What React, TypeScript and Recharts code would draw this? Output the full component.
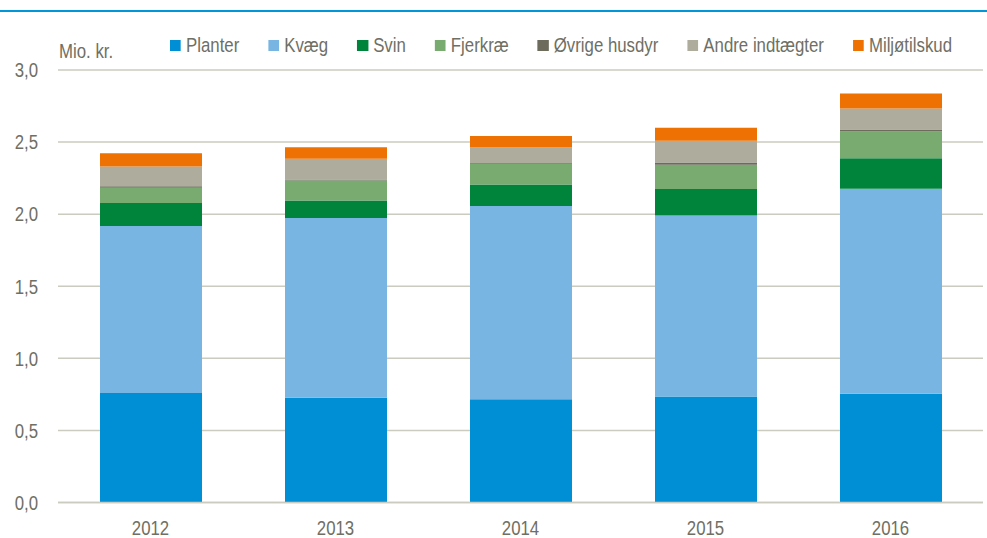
import { BarChart, Bar, XAxis, YAxis, CartesianGrid, Legend } from 'recharts';

// Kategorier og serier (mio. kr.)
const years = ['2012', '2013', '2014', '2015', '2016'];
const planter = [0.76, 0.726, 0.717, 0.735, 0.755];
const kvaeg = [1.158, 1.248, 1.34, 1.255, 1.422];
const svin = [0.16, 0.12, 0.148, 0.185, 0.211];
const fjerkrae = [0.105, 0.139, 0.145, 0.167, 0.185];
const oevrige = [0.01, 0.007, 0.005, 0.016, 0.014];
const andre = [0.137, 0.145, 0.107, 0.152, 0.146];
const miljoe = [0.092, 0.079, 0.081, 0.09, 0.104];
const yTicks = [0, 0.5, 1, 1.5, 2, 2.5, 3];

const SERIES = [
  { key: 'planter', name: 'Planter', values: planter, color: '#008fd5' },
  { key: 'kvaeg', name: 'Kvæg', values: kvaeg, color: '#78b5e3' },
  { key: 'svin', name: 'Svin', values: svin, color: '#00843b' },
  { key: 'fjerkrae', name: 'Fjerkræ', values: fjerkrae, color: '#79aa70' },
  { key: 'oevrige', name: 'Øvrige husdyr', values: oevrige, color: '#6d6c5c' },
  { key: 'andre', name: 'Andre indtægter', values: andre, color: '#adac9d' },
  { key: 'miljoe', name: 'Miljøtilskud', values: miljoe, color: '#ee7203' },
];

const data = years.map((year, i) => {
  const row: any = { year };
  SERIES.forEach(s => { row[s.key] = s.values[i]; });
  return row;
});

// Ingen "narrow" skrift installeret -> Liberation Sans klemt sammen vandret
const FONT = '"Liberation Sans", Arial, sans-serif';
const NARROW = 0.82;
const TEXT = '#6f6f64';
const GRID = '#cbcbbf';
const FS = 20.5;

const YTick = ({ x, y, payload }: any) => (
  <text
    transform={`translate(${x} ${y}) scale(${NARROW} 1)`}
    textAnchor="end"
    dy="0.355em"
    fill={TEXT}
    fontSize={FS}
    fontFamily={FONT}
  >
    {Number(payload.value).toFixed(1).replace('.', ',')}
  </text>
);

const XTick = ({ x, y, payload }: any) => (
  <text
    transform={`translate(${x} ${y}) scale(${NARROW} 1)`}
    textAnchor="middle"
    dy="0.71em"
    fill={TEXT}
    fontSize={FS}
    fontFamily={FONT}
  >
    {payload.value}
  </text>
);

const renderLegend = () => (
  <div
    style={{
      display: 'flex',
      fontFamily: FONT,
      fontSize: FS,
      lineHeight: '20px',
      color: TEXT,
      whiteSpace: 'nowrap',
      transform: `scaleX(${NARROW})`,
      transformOrigin: 'left top',
    }}
  >
    {SERIES.map(s => (
      <div key={s.key} style={{ display: 'flex', alignItems: 'flex-start', marginRight: 29 / NARROW }}>
        <span
          style={{
            width: 11 / NARROW,
            height: 11,
            marginTop: 5,
            marginRight: 5 / NARROW,
            background: s.color,
            display: 'inline-block',
          }}
        />
        <span>{s.name}</span>
      </div>
    ))}
  </div>
);

export default function App() {
  return (
    <div style={{ position: 'absolute', left: 0, top: 0, width: 987, height: 538, background: '#fff', overflow: 'hidden' }}>
      <div style={{ position: 'absolute', left: 0, top: 10, width: 987, height: 2, background: '#0096d8' }} />
      <div
        style={{
          position: 'absolute',
          left: 59,
          top: 41,
          fontFamily: FONT,
          fontSize: FS,
          lineHeight: '20px',
          color: TEXT,
          whiteSpace: 'nowrap',
          transform: `scaleX(${NARROW})`,
          transformOrigin: 'left top',
        }}
      >
        Mio. kr.
      </div>
      <BarChart
        width={987}
        height={538}
        data={data}
        margin={{ top: 70, right: 4, left: 0, bottom: 0 }}
      >
        <CartesianGrid vertical={false} stroke={GRID} strokeWidth={1.5} />
        <XAxis
          dataKey="year"
          height={35.5}
          tickLine={false}
          tickSize={0}
          tickMargin={18}
          axisLine={{ stroke: GRID, strokeWidth: 1.5 }}
          tick={<XTick />}
        />
        <YAxis
          width={58}
          domain={[0, 3]}
          ticks={yTicks}
          axisLine={false}
          tickLine={false}
          tickSize={0}
          tickMargin={20}
          tick={<YTick />}
        />
        <Legend
          layout="horizontal"
          verticalAlign="middle"
          align="center"
          content={renderLegend}
          wrapperStyle={{ top: 35, left: 170, width: 'auto' }}
        />
        {SERIES.map(s => (
          <Bar
            key={s.key}
            dataKey={s.key}
            name={s.name}
            stackId="a"
            fill={s.color}
            barSize={102}
            isAnimationActive={false}
          />
        ))}
      </BarChart>
    </div>
  );
}
